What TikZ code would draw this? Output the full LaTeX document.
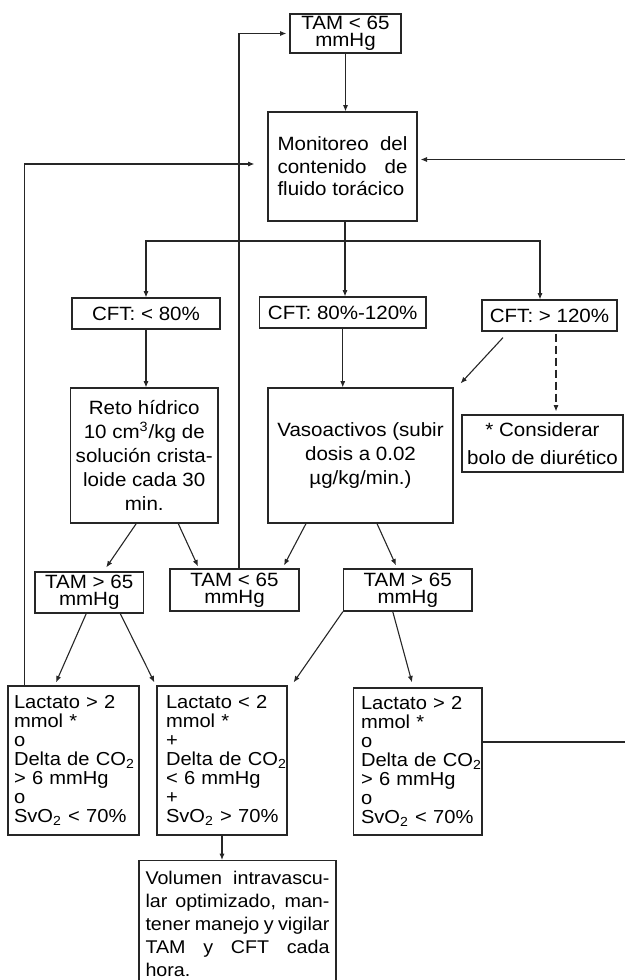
\documentclass[tikz,border=0pt]{standalone}
\usepackage{fontspec}
\setmainfont{Liberation Sans}[FakeStretch=1.07]
\usetikzlibrary{arrows.meta,calc}

\tikzset{
  box/.style={draw=black!85, line width=0.6pt, inner sep=0pt, font=\fontsize{9.6}{11.6}\selectfont},
  tam/.style={align=center, font={\fontsize{9.6}{8.3}\selectfont\lineskiplimit=-5pt\relax}},
  note/.style={align=left, font={\fontsize{9.4}{9.5}\selectfont\lineskiplimit=-5pt\relax}},
  conn/.style={draw=black!85, line width=0.55pt},
  arr/.style={conn, -{Latex[length=3.2pt,width=2.6pt]}},
}

\begin{document}
\begin{tikzpicture}[x=0.5pt, y=-0.5pt]
  \clip (0,0) rectangle (625,980);

  % boxes
  \node[box, tam, minimum width=55.5pt, minimum height=19.5pt] (tamA) at (345.5,33.5) {TAM < 65\\mmHg};
  \node[box, align=justify, text width=65pt, minimum width=74.5pt, minimum height=54.5pt,
        font=\fontsize{9.6}{11.25}\selectfont] (mon) at (342.5,166.5)
        {Monitoreo del\linebreak contenido de\linebreak fluido torácico};

  \node[box, minimum width=74pt, minimum height=15.5pt] (cftA) at (146,313.5) {CFT: < 80\%};
  \node[box, minimum width=83.25pt, minimum height=15.5pt] (cftB) at (342.75,312.5) {CFT: 80\%-120\%};
  \node[box, minimum width=67.5pt, minimum height=15.5pt] (cftC) at (549.5,315.5) {CFT: > 120\%};

  \node[box, align=center, minimum width=73.75pt, minimum height=67.5pt,
        font=\fontsize{9.6}{12}\selectfont] (reto) at (144.25,455.5)
        {Reto hídrico\\10 cm\textsuperscript{3}/kg de\\solución crista-\\loide cada 30\\min.};
  \node[box, align=center, minimum width=92.5pt, minimum height=67.5pt,
        font=\fontsize{9.6}{12}\selectfont] (vaso) at (360.5,455.5)
        {Vasoactivos (subir\\dosis a 0.02\\µg/kg/min.)};
  \node[box, align=center, minimum width=80.5pt, minimum height=28.5pt,
        font=\fontsize{9.6}{14}\selectfont] (cons) at (542.5,443.5)
        {* Considerar\\bolo de diurético};

  \node[box, tam, minimum width=54.25pt, minimum height=20.5pt] (tamB) at (89.25,592.5) {TAM > 65\\mmHg};
  \node[box, tam, minimum width=64.5pt, minimum height=21pt] (tamC) at (234.5,590) {TAM < 65\\mmHg};
  \node[box, tam, minimum width=64.25pt, minimum height=21pt] (tamD) at (407.75,590) {TAM > 65\\mmHg};

  \node[box, note, text width=59.5pt, minimum width=65.5pt, minimum height=74.5pt] (labL) at (73.5,760.5)
        {Lactato > 2\\mmol *\\o\\\mbox{Delta de CO\textsubscript{2}}\\> 6 mmHg\\o\\\mbox{SvO\textsubscript{2} < 70\%}};
  \node[box, note, text width=56pt, minimum width=65pt, minimum height=74.5pt] (labM) at (222,760.5)
        {Lactato < 2\\mmol *\\+\\\mbox{Delta de CO\textsubscript{2}}\\< 6 mmHg\\+\\\mbox{SvO\textsubscript{2} > 70\%}};
  \node[box, note, text width=56.75pt, minimum width=64.25pt, minimum height=73.5pt] (labR) at (417.75,761.5)
        {Lactato > 2\\mmol *\\o\\\mbox{Delta de CO\textsubscript{2}}\\> 6 mmHg\\o\\\mbox{SvO\textsubscript{2} < 70\%}};

  \node[box, anchor=north, align=justify, text width=92pt, minimum width=98.5pt, minimum height=63.5pt,
        font=\fontsize{9.2}{11.5}\selectfont] (vol) at (237.5,860)
        {Volumen intravascu-\linebreak lar optimizado, man-\linebreak tener manejo y vigilar\linebreak TAM y CFT cada\linebreak hora.};

  % connectors
  \draw[arr] (tamA.south) -- (tamA.south |- mon.north);
  \coordinate (fork) at (345,241);
  \draw[conn] (mon.south -| fork) -- (fork);
  \draw[arr] (fork) -| (cftA.north);
  \draw[arr] (fork) -- (fork |- cftB.north);
  \draw[arr] (fork) -| ($(cftC.north)+(-9.5,0)$);

  \draw[arr] (cftA.south) -- (cftA.south |- reto.north);
  \draw[arr] (cftB.south) -- (cftB.south |- vaso.north);
  \draw[arr] ($(cftC.south)+(-46.5,6)$) -- ($(vaso.north east)+(7,-4)$);
  \draw[arr, dash pattern=on 4pt off 2pt] ($(cftC.south)+(6.5,2)$) -- ($(cons.north)+(13.5,-3)$);

  \draw[arr] ($(reto.south)+(-8,0)$) -- ($(tamB.north)+(17,-4)$);
  \draw[arr] ($(reto.south)+(34,0)$) -- ($(tamC.north)+(-36.5,-2)$);
  \draw[arr] ($(vaso.south)+(-54.5,0)$) -- ($(tamC.north)+(49.5,-3)$);
  \draw[arr] ($(vaso.south)+(16.5,0)$) -- ($(tamD.north)+(-11.75,-3)$);

  \draw[arr] ($(tamB.south)+(-3,0)$) -- ($(labL.north)+(-17.5,-3)$);
  \draw[arr] ($(tamB.south)+(31,0)$) -- ($(labM.north west)+(-2,-3)$);
  \draw[arr] (tamD.south west) -- ($(labM.north east)+(6,-3)$);
  \draw[arr] ($(tamD.south)+(-15,0)$) -- ($(labR.north)+(-5.75,-5)$);
  \draw[arr] (labM.south) -- (labM.south |- vol.north);

  % loops back
  \draw[arr, shorten >=6.5pt] ($(labL.north west)+(17,0)$) |- ($(mon.west)+(0,-2.5)$);
  \draw[arr, shorten >=1.5pt] ($(tamC.north)+(4.5,0)$) |- (tamA.west);
  \draw[arr, shorten >=1.5pt] ($(labR.east)+(0,-19.5)$) -- ++(170,0) |- ($(mon.east)+(0,-7)$);
\end{tikzpicture}
\end{document}
